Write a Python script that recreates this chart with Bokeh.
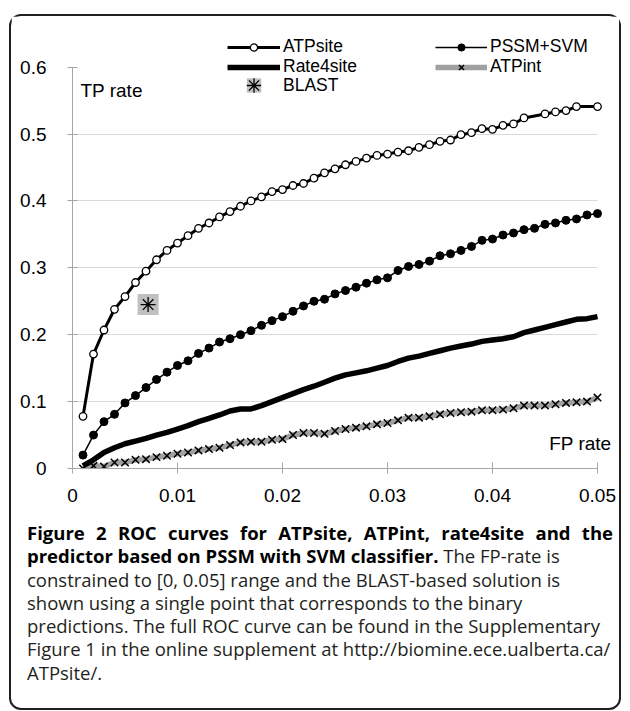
from bokeh.plotting import figure
from bokeh.models import Range1d, FixedTicker, NumeralTickFormatter, Legend, LegendItem, Label, Div
from bokeh.layouts import column
from bokeh.embed import file_html
from bokeh.resources import INLINE

# ---------------- data ----------------
fp_atpsite = [0.001, 0.002, 0.003, 0.004, 0.005, 0.006, 0.007, 0.008, 0.009, 0.010,
              0.011, 0.012, 0.013, 0.014, 0.015, 0.016, 0.017, 0.018, 0.019, 0.020,
              0.021, 0.022, 0.023, 0.024, 0.025, 0.026, 0.027, 0.028, 0.029, 0.030,
              0.031, 0.032, 0.033, 0.034, 0.035, 0.036, 0.037, 0.038, 0.039, 0.040,
              0.041, 0.042, 0.043, 0.045, 0.046, 0.047, 0.048, 0.050]
tp_atpsite = [0.078, 0.171, 0.207, 0.238, 0.257, 0.278, 0.295, 0.312, 0.326, 0.337,
              0.348, 0.359, 0.367, 0.376, 0.384, 0.392, 0.400, 0.406, 0.414, 0.417,
              0.423, 0.426, 0.434, 0.442, 0.448, 0.454, 0.459, 0.464, 0.468, 0.470,
              0.473, 0.475, 0.480, 0.484, 0.489, 0.491, 0.499, 0.502, 0.508, 0.507,
              0.513, 0.515, 0.524, 0.530, 0.533, 0.535, 0.541, 0.541]

fp_pssm = [0.001, 0.002, 0.003, 0.004, 0.005, 0.006, 0.007, 0.008, 0.009, 0.010,
           0.011, 0.012, 0.013, 0.014, 0.015, 0.016, 0.017, 0.018, 0.019, 0.020,
           0.021, 0.022, 0.023, 0.024, 0.025, 0.026, 0.027, 0.028, 0.029, 0.030,
           0.031, 0.032, 0.033, 0.034, 0.035, 0.036, 0.037, 0.038, 0.039, 0.040,
           0.041, 0.042, 0.043, 0.044, 0.045, 0.046, 0.047, 0.048, 0.049, 0.050]
tp_pssm = [0.020, 0.050, 0.070, 0.081, 0.098, 0.109, 0.121, 0.133, 0.144, 0.154,
           0.161, 0.172, 0.180, 0.189, 0.194, 0.200, 0.206, 0.214, 0.221, 0.227,
           0.235, 0.243, 0.250, 0.253, 0.261, 0.266, 0.271, 0.277, 0.282, 0.285,
           0.296, 0.302, 0.305, 0.310, 0.318, 0.321, 0.326, 0.332, 0.341, 0.343,
           0.349, 0.352, 0.357, 0.359, 0.365, 0.367, 0.371, 0.373, 0.379, 0.381]

fp_rate4site = [0.001, 0.002, 0.003, 0.004, 0.005, 0.006, 0.007, 0.008, 0.009, 0.010,
                0.011, 0.012, 0.013, 0.014, 0.015, 0.016, 0.017, 0.018, 0.019, 0.020,
                0.021, 0.022, 0.023, 0.024, 0.025, 0.026, 0.027, 0.028, 0.029, 0.030,
                0.031, 0.032, 0.033, 0.034, 0.035, 0.036, 0.037, 0.038, 0.039, 0.040,
                0.041, 0.042, 0.043, 0.044, 0.045, 0.046, 0.047, 0.048, 0.049, 0.050]
tp_rate4site = [0.004, 0.013, 0.024, 0.031, 0.037, 0.041, 0.045, 0.050, 0.054, 0.059,
                0.064, 0.070, 0.075, 0.080, 0.086, 0.089, 0.089, 0.094, 0.100, 0.106,
                0.112, 0.118, 0.123, 0.129, 0.135, 0.140, 0.143, 0.146, 0.150, 0.154,
                0.160, 0.165, 0.168, 0.172, 0.176, 0.180, 0.183, 0.186, 0.190, 0.192,
                0.194, 0.197, 0.203, 0.207, 0.211, 0.215, 0.219, 0.223, 0.224, 0.227]

fp_atpint = [0.001, 0.002, 0.003, 0.004, 0.005, 0.006, 0.007, 0.008, 0.009, 0.010,
             0.011, 0.012, 0.013, 0.014, 0.015, 0.016, 0.017, 0.018, 0.019, 0.020,
             0.021, 0.022, 0.023, 0.024, 0.025, 0.026, 0.027, 0.028, 0.029, 0.030,
             0.031, 0.032, 0.033, 0.034, 0.035, 0.036, 0.037, 0.038, 0.039, 0.040,
             0.041, 0.042, 0.043, 0.044, 0.045, 0.046, 0.047, 0.048, 0.049, 0.050]
tp_atpint = [0.000, 0.004, 0.003, 0.009, 0.009, 0.013, 0.014, 0.017, 0.019, 0.022,
             0.024, 0.027, 0.029, 0.031, 0.035, 0.039, 0.040, 0.040, 0.043, 0.044,
             0.050, 0.053, 0.053, 0.052, 0.056, 0.059, 0.061, 0.063, 0.066, 0.068,
             0.072, 0.076, 0.076, 0.078, 0.081, 0.083, 0.084, 0.085, 0.087, 0.087,
             0.088, 0.090, 0.094, 0.094, 0.094, 0.096, 0.098, 0.099, 0.100, 0.106]

fp_blast = [0.0072]
tp_blast = [0.245]

x_ticks = [0, 0.01, 0.02, 0.03, 0.04, 0.05]
y_ticks = [0, 0.1, 0.2, 0.3, 0.4, 0.5, 0.6]

series_labels = ["ATPsite", "PSSM+SVM", "Rate4site", "ATPint", "BLAST"]
x_title = "FP rate"
y_title = "TP rate"

caption_line1 = "Figure 2 ROC curves for ATPsite, ATPint, rate4site and the"
caption_bold2 = "predictor based on PSSM with SVM classifier."
caption_rest = (" The FP-rate is<br>constrained to [0, 0.05] range and the BLAST-based solution is<br>"
                "shown using a single point that corresponds to the binary<br>"
                "predictions. The full ROC curve can be found in the Supplementary<br>"
                "Figure 1 in the online supplement at http://biomine.ece.ualberta.ca/<br>"
                "ATPsite/.")

# ---------------- figure ----------------
FONT = "Liberation Sans"
FRAME_LEFT = 72      # page x of the plot frame's left edge
FRAME_BOTTOM = 468   # page y of the plot frame's bottom edge

p = figure(width=608, height=502, title=None,
           x_range=Range1d(x_ticks[0], 0.051619), y_range=Range1d(y_ticks[0], 0.654709),
           output_backend="svg", toolbar_location=None,
           min_border_left=61, min_border_right=5, min_border_top=14, min_border_bottom=50,
           outline_line_color=None, background_fill_color="white", border_fill_color="white")

for ax in (p.xaxis[0], p.yaxis[0]):
    ax.axis_line_color = "#a6a6a6"
    ax.major_tick_line_color = "#a6a6a6"
    ax.minor_tick_line_color = None
    ax.major_label_text_font = FONT
    ax.major_label_text_font_size = "19px"
    ax.major_label_text_color = "black"
    ax.major_tick_out = 5

p.xaxis.ticker = FixedTicker(ticks=x_ticks)
p.xaxis.formatter = NumeralTickFormatter(format="0.[00]")
p.xaxis.bounds = (x_ticks[0], x_ticks[-1])
p.xaxis.major_tick_in = 6
p.xaxis.major_label_standoff = 15

p.yaxis.ticker = FixedTicker(ticks=y_ticks)
p.yaxis.formatter = NumeralTickFormatter(format="0.[0]")
p.yaxis.bounds = (y_ticks[0], y_ticks[-1])
p.yaxis.major_tick_in = 5
p.yaxis.major_label_standoff = 21

p.xgrid.visible = False
grid = p.ygrid[0]
grid.ticker = FixedTicker(ticks=y_ticks[1:-1])
grid.grid_line_color = "#d9d9d9"
grid.grid_line_width = 1
if "cross_bounds" in grid.properties():
    grid.cross_bounds = (x_ticks[0], x_ticks[-1])

# ---------------- series ----------------
r_int_line = p.line(fp_atpint, tp_atpint, line_color="#a0a0a0", line_width=5.5, line_join="round")
r_int_pts = p.scatter(fp_atpint, tp_atpint, marker="x", size=10.5, line_color="black", line_width=1.5)
r_rate = p.line(fp_rate4site, tp_rate4site, line_color="black", line_width=5.5, line_join="round")
r_pssm_line = p.line(fp_pssm, tp_pssm, line_color="black", line_width=1.5)
r_pssm_pts = p.scatter(fp_pssm, tp_pssm, marker="circle", size=8, fill_color="black", line_color="black")
r_atp_line = p.line(fp_atpsite, tp_atpsite, line_color="black", line_width=3, line_join="round")
r_atp_pts = p.scatter(fp_atpsite, tp_atpsite, marker="circle", size=7.5, fill_color="white",
                      line_color="black", line_width=1.3)
r_blast_sq = p.scatter(fp_blast, tp_blast, marker="square", size=21, fill_color="#c0c0c0", line_color=None)
r_blast_ast = p.scatter(fp_blast, tp_blast, marker="asterisk", size=15, line_color="black", line_width=1.3)

# ---------------- legends (one entry each, placed like the reference) ----------------
def add_legend(label, renderers, glyph_left, row_bottom, gw, gh):
    lg = Legend(items=[LegendItem(label=label, renderers=renderers)],
                location=(glyph_left - FRAME_LEFT, FRAME_BOTTOM - row_bottom),
                glyph_width=gw, glyph_height=gh, label_height=18, label_standoff=3,
                padding=0, margin=0, spacing=0, border_line_color=None,
                background_fill_alpha=0, label_text_font=FONT, label_text_font_size="17.5px",
                label_text_color="black")
    p.add_layout(lg)

add_legend(series_labels[0], [r_atp_line, r_atp_pts], 227, 57, 53, 18)
add_legend(series_labels[2], [r_rate], 227, 77, 53, 18)
add_legend(series_labels[4], [r_blast_sq, r_blast_ast], 227, 103, 53, 36)
add_legend(series_labels[1], [r_pssm_line, r_pssm_pts], 435, 57, 52, 18)
add_legend(series_labels[3], [r_int_line, r_int_pts], 435, 77, 52, 18)

# ---------------- axis titles ----------------
p.add_layout(Label(x=x_ticks[0], y=0.565, x_offset=8, text=y_title, text_baseline="middle",
                   text_font=FONT, text_font_size="19px", text_color="black"))
p.add_layout(Label(x=x_ticks[-1], y=0.038, x_offset=14, text=x_title, text_align="right",
                   text_baseline="middle", text_font=FONT, text_font_size="19px", text_color="black"))

# ---------------- caption ----------------
caption_html = ('<div style="font-family: \'Open Sans\', sans-serif; font-size: 18.5px; line-height: 23.3px; '
                'color: #231f20; white-space: nowrap; padding-left: 16px; padding-top: 3px;">'
                '<b style="color:#000; word-spacing: 6.5px;">' + caption_line1 + '</b><br>'
                '<b style="color:#000;">' + caption_bold2 + '</b>' + caption_rest + '</div>')
div = Div(text=caption_html, width=608, height=190, margin=0)

layout = column(p, div, margin=(14, 0, 0, 9),
                styles={"border": "2px solid #231f20", "border-radius": "12px", "background": "white"})

open("out.html", "w").write(file_html(layout, INLINE))
